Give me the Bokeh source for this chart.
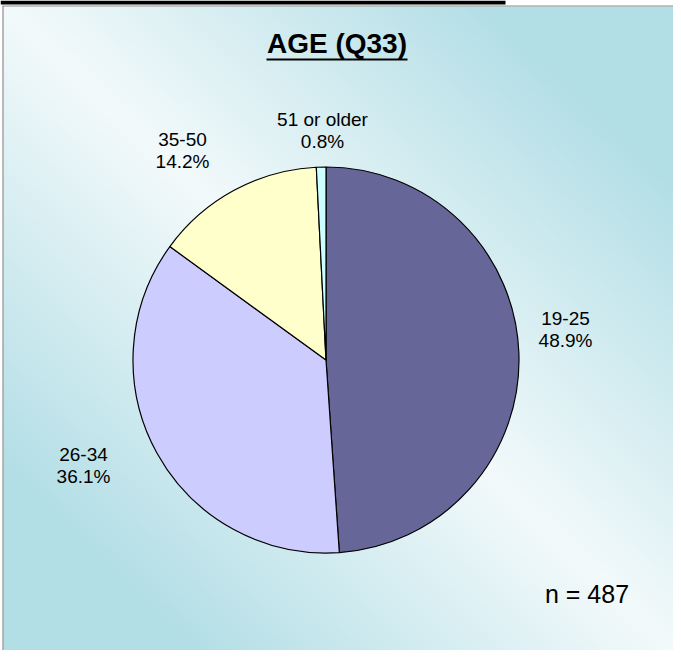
import numpy as np
from bokeh.plotting import figure
from bokeh.models import Range1d
from bokeh.core.properties import value
from bokeh.embed import file_html
from bokeh.resources import INLINE

# ---- data ----
categories = ["19-25", "26-34", "35-50", "51 or older"]
percents = [48.9, 36.1, 14.2, 0.8]
pct_labels = ["48.9%", "36.1%", "14.2%", "0.8%"]
slice_colors = ["#666699", "#CCCCFF", "#FFFFCC", "#CCFFFF"]
title_text = "AGE (Q33)"
n_text = "n = 487"

# ---- layout (pixel coordinates, origin at top-left) ----
W, H = 673, 650
cx, cy, R = 325.5, 359.5, 193.0
label_x = [565, 83, 182, 322]
label_base1 = [326, 462, 147, 127]
label_gap = 22
LABEL_FS = 19
FONT = "Liberation Sans"
BASE_SHIFT = 0.43  # empirical baseline correction (em)


def py(y):
    return H - y


def tb(y, fs):
    return py(y - BASE_SHIFT * fs)


p = figure(width=W, height=H, output_backend="svg", toolbar_location=None,
           x_range=Range1d(0, W), y_range=Range1d(0, H),
           min_border=0, outline_line_color=None)
p.axis.visible = False
p.grid.visible = False
p.background_fill_color = "white"
p.border_fill_color = "white"

# background gradient panel (blue at top-right and bottom-left)
x0, y0 = 3, 6
gw, gh = (W - x0) // 2, (H - y0) // 2
xs = x0 + (np.arange(gw) + 0.5) / gw * (W - x0)
ys = y0 + (np.arange(gh) + 0.5) / gh * (H - y0)
X, Y = np.meshgrid(xs, ys)
t = np.abs(X / 681 - Y / 658)
t = np.clip(t / 0.72, 0, 1)
white = np.array([243, 250, 251])
blue = np.array([178, 222, 230])
rgb = white[None, None, :] * (1 - t[..., None]) + blue[None, None, :] * t[..., None]
img = np.empty((gh, gw), dtype=np.uint32)
view = img.view(dtype=np.uint8).reshape((gh, gw, 4))
view[..., 0] = rgb[..., 0].astype(np.uint8)
view[..., 1] = rgb[..., 1].astype(np.uint8)
view[..., 2] = rgb[..., 2].astype(np.uint8)
view[..., 3] = 255
img = img[::-1]  # bokeh images are bottom-up
p.image_rgba(image=[img], x=x0, y=0, dw=W - x0, dh=H - y0)

# frame: black bar on top, grey panel edges
p.quad(left=[0], right=[505], top=[py(0)], bottom=[py(4)],
       fill_color="black", line_color=None)
p.segment(x0=[2, 2.5], y0=[py(5.5), py(5.5)], x1=[W, 2.5], y1=[py(5.5), 0],
          line_color="#8C8C8C", line_width=1.2)

# pie
fr = np.array(percents) / np.sum(percents)
cum = np.concatenate([[0], np.cumsum(fr)])
starts = np.pi / 2 - 2 * np.pi * cum[:-1]
ends = np.pi / 2 - 2 * np.pi * cum[1:]
p.wedge(x=cx, y=py(cy), radius=R, start_angle=starts, end_angle=ends,
        direction="clock", fill_color=slice_colors, line_color="black",
        line_width=1.2)

# labels
p.text(x=label_x, y=[tb(b, LABEL_FS) for b in label_base1], text=categories,
       text_font=value(FONT), text_font_size=f"{LABEL_FS}px", text_color="black",
       text_align="center", text_baseline="alphabetic")
p.text(x=label_x, y=[tb(b + label_gap, LABEL_FS) for b in label_base1],
       text=pct_labels, text_font=value(FONT), text_font_size=f"{LABEL_FS}px",
       text_color="black", text_align="center", text_baseline="alphabetic")

# title with underline
p.text(x=[336.5], y=[tb(55, 28)], text=[title_text], text_font=value(FONT),
       text_font_size="28px", text_font_style="bold", text_color="black",
       text_align="center", text_baseline="alphabetic")
p.segment(x0=[266], y0=[py(59)], x1=[407], y1=[py(59)],
          line_color="black", line_width=2.2)

# n
p.text(x=[586.5], y=[tb(604, 25)], text=[n_text], text_font=value(FONT),
       text_font_size="25px", text_color="black", text_align="center",
       text_baseline="alphabetic")

open("out.html", "w").write(file_html(p, INLINE))
